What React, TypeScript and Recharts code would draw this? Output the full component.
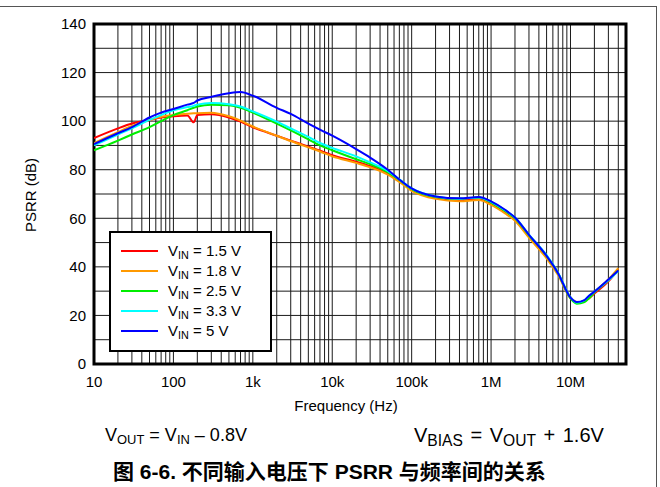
import React from "react";
import {
  LineChart,
  Line,
  XAxis,
  YAxis,
  CartesianGrid,
  Legend,
  ReferenceArea,
} from "recharts";

const FONT = '"Liberation Sans", Arial, "Noto Sans CJK SC", sans-serif';

// frequency points (Hz)
const freqHz = [
  10, 20, 30, 50, 70, 100, 150, 180, 200, 300, 500, 700, 1000, 2000, 3000,
  5000, 7000, 10000, 20000, 30000, 50000, 70000, 100000, 200000, 400000,
  700000, 1000000, 1500000, 2000000, 3000000, 5000000, 7000000, 10000000,
  12000000, 15000000, 17000000, 20000000, 30000000, 40000000,
];

// PSRR (dB) per input voltage
const psrr15 = [
  93, 97, 99, 100.5, 101.5, 102, 102.3, 99.5, 102.5, 102.8, 101.5, 99.8, 97.5,
  94, 92, 89.5, 87.8, 86, 83.3, 81.5, 78.5, 75.5, 72, 68.5, 67.5, 68, 66, 62.5,
  59.5, 52.5, 44, 37, 27.5, 25.5, 26, 27, 29, 34, 39,
];
const psrr18 = [
  91, 95.5, 98, 100.5, 101.8, 102.5, 103, 103.2, 103.3, 103.5, 102, 100.2,
  97.8, 94, 91.8, 89.2, 87.5, 85.5, 82.8, 81, 78, 75, 71.3, 68, 67, 67.5,
  65.5, 62, 59, 52, 43.5, 36.5, 27, 25.3, 26, 27, 29.5, 34.8, 39.5,
];
const psrr25 = [
  88, 92, 94.5, 97.5, 100, 102.5, 104.5, 105.5, 106, 106.8, 106.5, 105.5,
  103.5, 99, 96.2, 92.5, 90, 88, 84.3, 82.3, 79, 75.8, 72, 68.8, 68, 68.6,
  66.5, 63, 60, 53, 44.5, 37.3, 27, 24.8, 25.5, 27, 29.5, 34.5, 38.5,
];
const psrr33 = [
  90, 94.5, 97, 100.5, 102.5, 104.5, 105.8, 106.3, 106.8, 107.5, 107, 106,
  104, 99.8, 97, 93.5, 91, 89, 85.5, 83, 79.5, 76, 72.3, 69, 68, 68.6, 66.8,
  63.3, 60.3, 53.3, 44.8, 37.5, 27.5, 25.3, 26.3, 28, 29.8, 34.5, 38.3,
];
const psrr50 = [
  90.5, 95, 97.5, 101.5, 103.5, 105, 106.8, 107.5, 108.5, 110, 111.5, 112,
  110.5, 105.5, 103, 99, 96.5, 94, 88.5, 85, 80, 76, 72.3, 69, 68.2, 68.8, 67,
  63.5, 60.3, 53.2, 44.5, 37.3, 27.3, 25.5, 26.3, 28, 29.8, 34.8, 38.5,
];

const xTicks = [10, 100, 1000, 10000, 100000, 1000000, 10000000];
const xTickLabels = ["10", "100", "1k", "10k", "100k", "1M", "10M"];
// grid every 10 dB, labels every 20 dB
const yTicks = [0, 10, 20, 30, 40, 50, 60, 70, 80, 90, 100, 110, 120, 130, 140];
const yTickLabels = ["0", "20", "40", "60", "80", "100", "120", "140"];

const series = [
  { key: "v15", label: "1.5 V", color: "#ff0000", values: psrr15 },
  { key: "v18", label: "1.8 V", color: "#ff9900", values: psrr18 },
  { key: "v25", label: "2.5 V", color: "#00ee00", values: psrr25 },
  { key: "v33", label: "3.3 V", color: "#00ffff", values: psrr33 },
  { key: "v50", label: "5 V", color: "#0000ff", values: psrr50 },
];

const rows = freqHz.map((f, i) => {
  const r: Record<string, number> = { f };
  series.forEach((s) => (r[s.key] = s.values[i]));
  return r;
});

// 1..9 per decade for the log grid
const xGridTicks: number[] = [];
xTicks.forEach((d) => {
  for (let m = 1; m <= 9; m++) if (d * m <= 50000000) xGridTicks.push(d * m);
});

const sub = { fontSize: "0.72em", verticalAlign: "-0.25em" } as const;
const subBig = { fontSize: "0.78em", verticalAlign: "-0.25em" } as const;

const renderLegend = () => (
  <div
    style={{
      boxSizing: "border-box",
      width: 163,
      height: 121,
      border: "2px solid #000",
      background: "#fff",
      padding: "8px 0 0 10px",
      fontFamily: FONT,
      fontSize: 15,
      color: "#000",
    }}
  >
    {series.map((s) => (
      <div key={s.key} style={{ display: "flex", alignItems: "center", height: 20 }}>
        <span style={{ width: 37, height: 2, background: s.color, marginRight: 10 }} />
        <span>
          V<span style={sub}>IN</span> = {s.label}
        </span>
      </div>
    ))}
  </div>
);

const abs = (left: number, top: number, extra: React.CSSProperties = {}) =>
  ({ position: "absolute", left, top, fontFamily: FONT, color: "#000", ...extra }) as React.CSSProperties;

export default function App() {
  return (
    <div style={{ position: "absolute", left: 0, top: 0, width: 660, height: 487, background: "#fff" }}>
      <div style={{ position: "absolute", left: 0, top: 6, width: 657, height: 1, background: "#555" }} />
      <div style={{ position: "absolute", left: 656, top: 6, width: 1, height: 481, background: "#555" }} />
      <LineChart width={660} height={487} data={rows} margin={{ top: 24, right: 34, left: 0, bottom: 0 }}>
        <XAxis
          dataKey="f"
          type="number"
          scale="log"
          domain={[10, 50000000]}
          ticks={xTicks}
          interval={0}
          allowDataOverflow
          tickFormatter={(v) => xTickLabels[xTicks.indexOf(v)] ?? ""}
          height={123}
          tickSize={0}
          tickMargin={12}
          axisLine={false}
          tick={{ fill: "#000", fontSize: 15, fontFamily: FONT }}
        />
        <XAxis xAxisId="grid" dataKey="f" type="number" scale="log" domain={[10, 50000000]} ticks={xGridTicks} interval={0} allowDataOverflow hide />
        <YAxis
          domain={[0, 140]}
          ticks={yTicks}
          interval={0}
          width={94}
          tickSize={0}
          tickMargin={8}
          axisLine={false}
          tickFormatter={(v) => (v % 20 === 0 ? yTickLabels[v / 20] : "")}
          tick={{ fill: "#000", fontSize: 15, fontFamily: FONT }}
        />
        <CartesianGrid xAxisId="grid" stroke="#1a1a1a" strokeWidth={1} />
        {series.map((s) => (
          <Line
            key={s.key}
            dataKey={s.key}
            type="monotone"
            stroke={s.color}
            strokeWidth={2}
            dot={false}
            isAnimationActive={false}
          />
        ))}
        <ReferenceArea x1={10} x2={50000000} y1={0} y2={140} fill="none" stroke="#000" strokeWidth={3} />
        <Legend
          layout="vertical"
          align="center"
          verticalAlign="middle"
          content={renderLegend}
          wrapperStyle={{ left: 109, top: 231, width: 163, height: 121 }}
        />
      </LineChart>
      <div style={abs(30, 195, { fontSize: 15, transform: "translate(-50%, -50%) rotate(-90deg)", whiteSpace: "nowrap" })}>
        PSRR (dB)
      </div>
      <div style={abs(346, 405, { fontSize: 15, transform: "translate(-50%, -50%)", whiteSpace: "nowrap" })}>
        Frequency (Hz)
      </div>
      <div style={abs(105, 425, { fontSize: 18, whiteSpace: "nowrap" })}>
        V<span style={sub}>OUT</span> = V<span style={sub}>IN</span> – 0.8V
      </div>
      <div style={abs(414, 424, { fontSize: 20, whiteSpace: "nowrap", wordSpacing: 2 })}>
        V<span style={subBig}>BIAS</span> = V<span style={subBig}>OUT</span> + 1.6V
      </div>
      <div style={abs(113, 455, { fontSize: 21, fontWeight: "bold", whiteSpace: "nowrap" })}>
        图 6-6. 不同输入电压下 PSRR 与频率间的关系
      </div>
    </div>
  );
}
